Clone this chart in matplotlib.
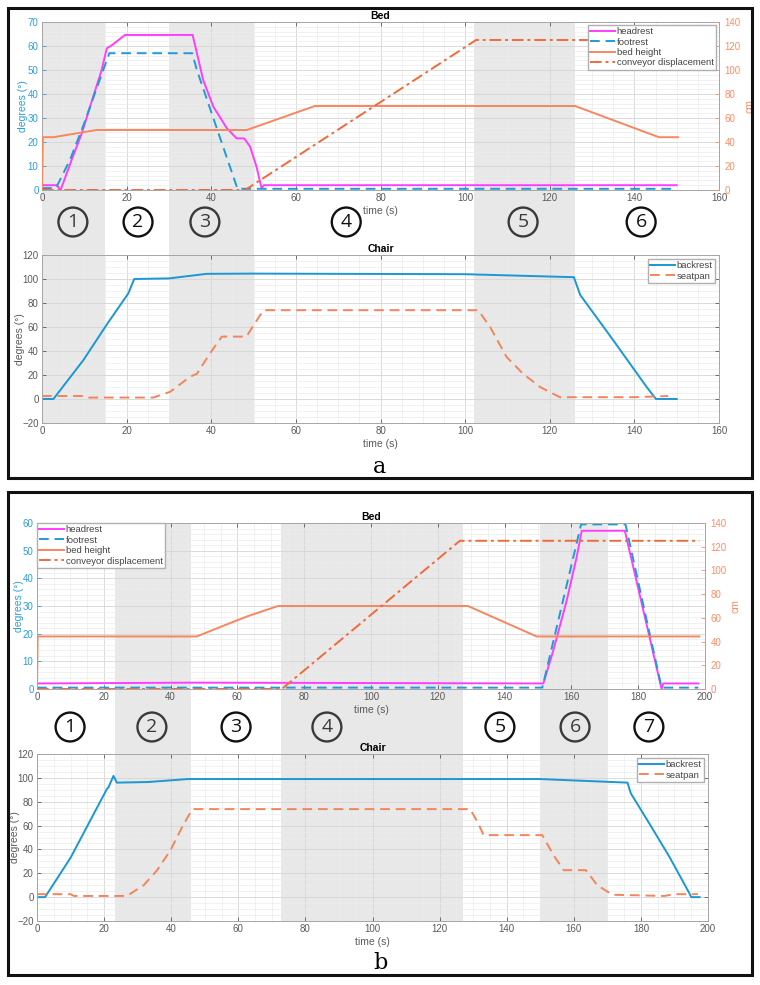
"""
Bed / chair actuator trajectories during two transfer sequences (panels a and b).
Style: MATLAB-like line plots with shaded phases and numbered stage markers.
"""
import matplotlib
matplotlib.use("Agg")
import matplotlib.pyplot as plt
from matplotlib.patches import Rectangle
from matplotlib.ticker import AutoMinorLocator, MultipleLocator
from matplotlib.transforms import blended_transform_factory

# --- colours ---
HEAD_C = "#ff3dff"
FOOT_C = "#1f9bd7"
BEDH_C = "#f7875f"
CONV_C = "#f2693a"
BACK_C = "#1a97d5"
SEAT_C = "#f4845a"
SHADE_C = "#e8e8e8"
SPINE_C = "#a6a6a6"
TXT_C = "#5a5a5a"
LEFT_C = "#2a9fd8"
RIGHT_C = "#ff8c66"

W, H = 760, 985

# ---------------------------------------------------------------------------
# Data
# ---------------------------------------------------------------------------
# Panel a - bed: headrest / footrest in degrees, bed height / conveyor in cm
A_HEAD_T = [0, 3.5, 4.4, 7, 9.4, 12.1, 14.1, 15.3, 16.5, 19.6, 35.6, 38.1, 40.5, 43.7,
            46.0, 47.8, 49.2, 50.7, 51.9, 52.4, 150]
A_HEAD_V = [2, 2, 0, 12.5, 23.6, 38.9, 50, 59, 60.3, 64.6, 64.6, 45.8, 34.7, 25.7,
            21.5, 21.5, 18, 9.7, 0.7, 2, 2]
A_FOOT_T = [0, 3.3, 6.6, 9.8, 15.9, 35.5, 36.6, 46.2, 150]
A_FOOT_V = [0.8, 0.8, 12.5, 27, 57, 57, 50, 0.5, 0.5]
A_BEDH_T = [0, 0.2, 2.7, 12.9, 48.4, 64.5, 126, 145.8, 150.3]
A_BEDH_V = [0, 44, 44, 50, 50, 70, 70, 44, 44]
A_CONV_T = [0, 48, 102.6, 150]
A_CONV_V = [0, 0, 125, 125]

# Panel a - chair (degrees)
A_BACK_T = [0, 2.7, 9.8, 15.3, 20.4, 21.8, 30, 38.9, 50, 100, 125.7, 127.2, 135,
            142.9, 145.1, 150]
A_BACK_V = [0, 0, 32.5, 62, 88, 100, 100.5, 104.3, 104.5, 104, 101.5, 86.7, 49,
            10, 0, 0]
A_SEAT_T = [0, 10, 11, 26.3, 30.3, 35, 36.6, 39.7, 42.5, 48.3, 52.3, 103.1, 105.9,
            109.8, 113.7, 117.7, 122.4, 140, 148]
A_SEAT_V = [2.5, 2.5, 1.2, 1.2, 6, 18.6, 21, 38, 52, 52, 74, 74, 60, 35, 21, 10,
            1.5, 1.5, 2.5]

A_SPANS = [(0, 15), (30, 50), (102, 126)]
A_STAGE_X = [7.3, 22.7, 38.5, 71.9, 113.7, 141.6]
A_STAGE_SHADED = [True, False, True, False, True, False]

# Panel b - bed
B_HEAD_T = [0, 47, 85, 151.6, 154.6, 158.6, 161.6, 163.1, 176, 187, 187.5, 198]
B_HEAD_V = [2, 2.3, 2.2, 2, 14, 32, 47.8, 57.2, 57.2, 0, 2, 2]
B_FOOT_T = [0, 151.3, 162.9, 176.2, 187, 198]
B_FOOT_V = [0.5, 0.5, 59.5, 59.5, 0.5, 0.5]
B_BEDH_T = [0, 0.2, 47.8, 58.8, 63.3, 72.2, 129, 149.6, 198.3]
B_BEDH_V = [0, 44.3, 44.3, 56.7, 61.6, 70, 70, 44.3, 44.3]
B_CONV_T = [0, 73.3, 126.6, 198.3]
B_CONV_V = [0, 0, 125, 125]

# Panel b - chair
B_BACK_T = [0, 2.4, 10, 20.9, 21.3, 22.8, 23.8, 33, 45, 150, 176, 177, 182.5,
            188.5, 194.5, 195, 197.5]
B_BACK_V = [0, 0, 33, 91, 92, 101.7, 96, 96.5, 99, 99, 96, 87, 61.8, 33.8, 3, 0, 0]
B_SEAT_T = [0, 10, 11, 26.8, 31.8, 35.8, 39.8, 43.3, 46.3, 129.1, 131.5, 133.1,
            150.6, 154, 157, 163.6, 167, 171.5, 187, 190, 197]
B_SEAT_V = [2.5, 2.5, 1, 1, 10, 22.6, 39.4, 59, 73.8, 73.8, 62, 52, 52, 35, 22.6,
            22.6, 10, 2, 1, 2.5, 2.5]

B_SPANS = [(23.5, 46), (73, 127.5), (150.7, 171)]
B_STAGE_X = [9.9, 34.4, 59.6, 86.8, 138.6, 161.1, 183.2]
B_STAGE_SHADED = [False, True, False, True, False, True, False]


def px(l, t, r, b):
    """Pixel box (from top-left) -> figure fraction rect."""
    return [l / W, 1 - b / H, (r - l) / W, (b - t) / H]


def style_axes(ax, xmax, ylim, ystep):
    ax.set_xlim(0, xmax)
    ax.set_ylim(*ylim)
    ax.xaxis.set_major_locator(MultipleLocator(20))
    ax.yaxis.set_major_locator(MultipleLocator(ystep))
    ax.xaxis.set_minor_locator(AutoMinorLocator())
    ax.yaxis.set_minor_locator(AutoMinorLocator())
    ax.grid(which="major", color="#d6d6d6", lw=0.6)
    ax.grid(which="minor", color="#ececec", lw=0.5)
    ax.tick_params(which="major", direction="in", length=3, top=True, pad=2.5,
                   labelsize=7, colors=TXT_C, width=0.6)
    ax.tick_params(which="minor", length=0)
    for s in ax.spines.values():
        s.set_color(SPINE_C)
        s.set_linewidth(0.7)
    ax.patch.set_visible(False)
    ax.set_xlabel("time (s)", fontsize=7.5, color=TXT_C, labelpad=2)


def place_ylabel(ax, rect, x_px):
    """Put the y label so that its centre sits at x_px (figure pixels)."""
    left = rect[0] * W
    width = rect[2] * W
    ax.yaxis.set_label_coords((x_px + 4 - left) / width, 0.5)


def draw_panel(fig, rects, xmax, bed_ylim, bed_ystep, bed, chair, spans,
               stage_x, stage_shaded, stage_y, bed_legend_loc, letter, letter_y,
               ylabel_px):
    bed_rect, chair_rect, bg_rect = rects

    # shaded phases span both plots and the gap between them
    bg = fig.add_axes(bg_rect, zorder=0)
    bg.set_xlim(0, xmax)
    bg.set_ylim(0, 1)
    bg.axis("off")
    for x0, x1 in spans:
        bg.axvspan(x0, x1, color=SHADE_C, lw=0)

    # --- Bed ---
    ax = fig.add_axes(bed_rect, zorder=1)
    style_axes(ax, xmax, bed_ylim, bed_ystep)
    ax.tick_params(axis="y", colors=LEFT_C, right=False)
    ax.set_ylabel("degrees (°)", fontsize=7.5, color=LEFT_C)
    place_ylabel(ax, bed_rect, ylabel_px[0])
    ax.set_title("Bed", fontsize=7.5, fontweight="bold", pad=2)
    h1, = ax.plot(bed["head_t"], bed["head_v"], color=HEAD_C, lw=1.4, label="headrest")
    h2, = ax.plot(bed["foot_t"], bed["foot_v"], color=FOOT_C, lw=1.4, ls=(0, (5, 3)),
                  label="footrest")
    axr = ax.twinx()
    axr.set_zorder(2)
    axr.set_ylim(0, 140)
    axr.yaxis.set_major_locator(MultipleLocator(20))
    axr.tick_params(axis="y", direction="in", length=3, labelsize=7, colors=RIGHT_C,
                    width=0.6, pad=4)
    for s in axr.spines.values():
        s.set_visible(False)
    axr.set_ylabel("cm", fontsize=7.5, color=RIGHT_C, labelpad=3)
    h3, = axr.plot(bed["bedh_t"], bed["bedh_v"], color=BEDH_C, lw=1.4, label="bed height")
    h4, = axr.plot(bed["conv_t"], bed["conv_v"], color=CONV_C, lw=1.4, ls=(0, (6, 2, 1.5, 2)),
                   label="conveyor displacement")
    leg = axr.legend(handles=[h1, h2, h3, h4], loc=bed_legend_loc, fontsize=6.8,
                     frameon=True, fancybox=False, edgecolor="#b0b0b0", framealpha=1,
                     borderpad=0.25, labelspacing=0.15, handlelength=2.6,
                     handletextpad=0.2, borderaxespad=0.3 if bed_legend_loc == "upper right" else 0.0)
    for t in leg.get_texts():
        t.set_color("#444444")

    # --- Chair ---
    ac = fig.add_axes(chair_rect, zorder=1)
    style_axes(ac, xmax, (-20, 120), 20)
    ac.tick_params(axis="y", right=True)
    ac.set_ylabel("degrees (°)", fontsize=7.5, color=TXT_C)
    place_ylabel(ac, chair_rect, ylabel_px[1])
    ac.set_title("Chair", fontsize=7.5, fontweight="bold", pad=2)
    ac.plot(chair["back_t"], chair["back_v"], color=BACK_C, lw=1.4, label="backrest")
    ac.plot(chair["seat_t"], chair["seat_v"], color=SEAT_C, lw=1.4, ls=(0, (5, 3)),
            label="seatpan")
    leg = ac.legend(loc="upper right", fontsize=6.8, frameon=True, fancybox=False,
                    edgecolor="#b0b0b0", framealpha=1, borderpad=0.25, labelspacing=0.15,
                    handlelength=2.6, handletextpad=0.2, borderaxespad=0.4)
    for t in leg.get_texts():
        t.set_color("#444444")

    # numbered stage markers
    tr = blended_transform_factory(bg.transData, fig.transFigure)
    for i, (x, shaded) in enumerate(zip(stage_x, stage_shaded), start=1):
        col = "#3a3a3a" if shaded else "#111111"
        fig.text(x, stage_y, str(i), transform=tr, ha="center", va="center",
                 fontsize=14, family="Open Sans", color=col,
                 bbox=dict(boxstyle="circle,pad=0.28", fc="none", ec=col, lw=1.7))

    fig.text(0.5, letter_y, letter, ha="center", va="baseline", fontsize=16,
             family="DejaVu Serif")


def main():
    plt.rcParams["font.family"] = ["Liberation Sans", "DejaVu Sans"]
    fig = plt.figure(figsize=(W / 100, H / 100), dpi=100)

    # panel frames
    for (l, t, r, b) in [(8, 8, 752, 478), (8, 492, 752, 975)]:
        fig.patches.append(Rectangle((l / W, 1 - b / H), (r - l) / W, (b - t) / H,
                                     transform=fig.transFigure, fill=False,
                                     ec="#111111", lw=2.2, zorder=10))

    draw_panel(
        fig, (px(42, 22, 719, 190), px(42, 255, 719, 423), px(42, 22, 719, 423)),
        160, (0, 70), 10,
        dict(head_t=A_HEAD_T, head_v=A_HEAD_V, foot_t=A_FOOT_T, foot_v=A_FOOT_V,
             bedh_t=A_BEDH_T, bedh_v=A_BEDH_V, conv_t=A_CONV_T, conv_v=A_CONV_V),
        dict(back_t=A_BACK_T, back_v=A_BACK_V, seat_t=A_SEAT_T, seat_v=A_SEAT_V),
        A_SPANS, A_STAGE_X, A_STAGE_SHADED, 1 - 222 / H, "upper right", "a", 1 - 473 / H,
        (24, 21))

    draw_panel(
        fig, (px(37, 523, 705, 689), px(37, 754, 708, 921), px(37, 523, 705, 921)),
        200, (0, 60), 10,
        dict(head_t=B_HEAD_T, head_v=B_HEAD_V, foot_t=B_FOOT_T, foot_v=B_FOOT_V,
             bedh_t=B_BEDH_T, bedh_v=B_BEDH_V, conv_t=B_CONV_T, conv_v=B_CONV_V),
        dict(back_t=B_BACK_T, back_v=B_BACK_V, seat_t=B_SEAT_T, seat_v=B_SEAT_V),
        B_SPANS, B_STAGE_X, B_STAGE_SHADED, 1 - 727 / H, "upper left", "b", 1 - 969 / H,
        (20, 16))

    fig.savefig("out.png", dpi=100)
    plt.close(fig)


if __name__ == "__main__":
    main()
